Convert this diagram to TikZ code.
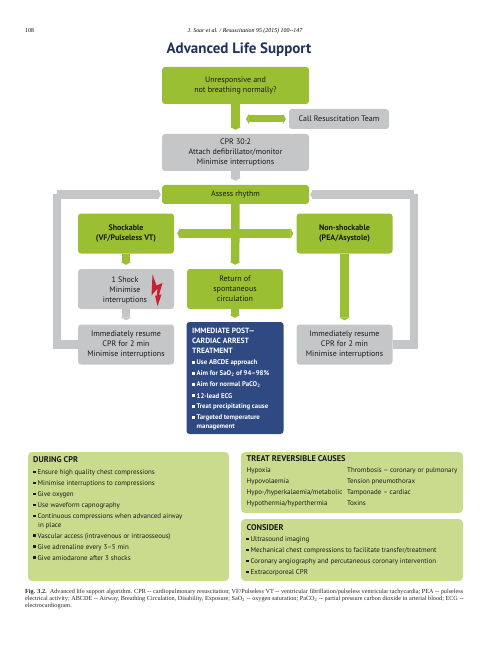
\documentclass[tikz,border=0pt]{standalone}
\usepackage{fontspec}
\setmainfont{PT Sans}
\newfontfamily\capfont{Liberation Serif}
\usetikzlibrary{arrows.meta}
\definecolor{colorAls}{HTML}{9BBF32}
\definecolor{colorGrey}{HTML}{C5C6C8}
\definecolor{colorPale}{HTML}{C9DB8C}
\definecolor{colorPost}{HTML}{2F4A82}
\definecolor{colorTitle}{HTML}{20305F}
\definecolor{colorBolt}{HTML}{C8202E}
\newcommand\bodyFont{\fontsize{8}{10}\selectfont}
\newcommand\listFont{\fontsize{6.95}{8.6}\selectfont}
\newcommand\subTwo{\textsubscript{2}}
\tikzset{
	box/.style={rounded corners=3pt, inner sep=0pt, align=center, font=\bodyFont, text=black!90},
	greenbox/.style={box, fill=colorAls},
	greybox/.style={box, fill=colorGrey},
	palebox/.style={rounded corners=4pt, fill=colorPale, inner sep=0pt},
	thinarrow/.style={colorAls, line width=7pt, -{Triangle[width=10.5pt,length=3pt]}, shorten >=3pt},
	greenarrow/.style={colorAls, line width=8.5pt, -{Triangle[width=11pt,length=3pt]}, shorten >=4pt},
	greyarrow/.style={colorGrey, line width=8.5pt, -{Triangle[width=11pt,length=3pt]}, shorten >=4pt},
	listtext/.style={anchor=west, inner sep=0pt, font=\listFont, text=black!90},
	listhead/.style={anchor=west, inner sep=0pt, font=\fontsize{8.3}{10}\selectfont\bfseries, text=black!90},
	bullet/.style={fill=black!90, minimum size=2.4pt, inner sep=0pt},
	posttext/.style={anchor=west, inner sep=0pt, font=\fontsize{6.8}{8.4}\selectfont\bfseries, text=white, align=left},
	postbullet/.style={fill=white, minimum size=2.2pt, inner sep=0pt},
	captext/.style={anchor=west, inner sep=0pt, font=\fontsize{6.2}{7}\selectfont\capfont, text=black!85}
}
\begin{document}
\begin{tikzpicture}[x=1pt,y=-1pt]
	\useasboundingbox (0,0) rectangle (502,668);

	\node[anchor=west, inner sep=0pt, font=\fontsize{5.9}{7}\selectfont\capfont] (pageno) at (25,31) {108};
	\node[inner sep=0pt, font=\fontsize{5.9}{7}\selectfont\capfont\itshape] (running) at (245,31) {J. Soar et al. / Resuscitation 95 (2015) 100--147};
	\node[inner sep=0pt, font=\fontsize{15}{17}\selectfont\bfseries, text=colorTitle] (title) at (239,50) {Advanced Life Support};

	% flow boxes
	\node[greenbox, minimum width=147pt, minimum height=37pt] (unresp) at (235.5,85.5) {Unresponsive and\\not breathing normally?};
	\node[greybox, minimum width=100pt, minimum height=20pt] (team) at (339,119) {Call Resuscitation Team};
	\node[greybox, minimum width=147pt, minimum height=37pt] (cpr) at (235.5,152.5) {CPR 30:2\\Attach defibrillator/monitor\\Minimise interruptions};
	\node[greenbox, minimum width=147pt, minimum height=19pt] (assess) at (235.5,194.5) {Assess rhythm};
	\node[greenbox, minimum width=96pt, minimum height=40pt, font=\bodyFont\bfseries] (shock) at (126,233.5) {Shockable\\(VF/Pulseless VT)};
	\node[greenbox, minimum width=96pt, minimum height=40pt, font=\bodyFont\bfseries] (nonshock) at (344.5,233.5) {Non-shockable\\(PEA/Asystole)};
	\node[greybox, minimum width=96pt, minimum height=40pt] (oneshock) at (126,289) {};
	\node[inner sep=0pt, align=center, font=\bodyFont, text=black!90] (oneshocktext) at (125,290) {1 Shock\\Minimise\\interruptions};
	\node[greenbox, minimum width=96pt, minimum height=40pt] (rosc) at (235,289) {Return of\\spontaneous\\circulation};
	\node[greybox, minimum width=96pt, minimum height=40pt] (resumeL) at (126,344.5) {Immediately resume\\CPR for 2 min\\Minimise interruptions};
	\node[greybox, minimum width=96pt, minimum height=40pt] (resumeR) at (344.5,344.5) {Immediately resume\\CPR for 2 min\\Minimise interruptions};
	\node[box, fill=colorPost, minimum width=97pt, minimum height=112pt] (post) at (235,378) {};

	\coordinate (teamend) at (246,119);
	\coordinate (loopL) at (57,194);
	\coordinate (loopR) at (414,194);

	% connectors
	\draw[greyarrow, line join=miter, shorten >=1pt] (resumeL.west) -| (loopL) |- (assess.west);
	\draw[greyarrow, line join=miter, shorten >=1pt] (resumeR.east) -| (loopR) |- (assess.east);
	\draw[greenarrow] (unresp) -- (cpr);
	\draw[thinarrow, {Triangle[width=10.5pt,length=3pt]}-{Triangle[width=10.5pt,length=3pt]}, shorten <=3pt, shorten >=0pt] (team) -- (teamend);
	\draw[greyarrow] (cpr) -- (assess);
	\draw[greenarrow] (assess) -- (rosc);
	\draw[greenarrow, {Triangle[width=11pt,length=3pt]}-{Triangle[width=11pt,length=3pt]}, shorten <=3pt, shorten >=3pt] (shock) -- (nonshock);
	\draw[greenarrow] (shock) -- (oneshock);
	\draw[greyarrow] (oneshock) -- (resumeL);
	\draw[greenarrow] (rosc) -- (post);
	\draw[greenarrow] (nonshock) -- (resumeR);

	% bolt
	\fill[colorBolt] (152.5,274.5) -- (156.5,285.5) -- (162.5,283) -- (159,295) -- (161.5,294.5) -- (157.5,306) -- (155,295.5) -- (156.8,295.5) -- (157.5,288.5) -- (151.5,295.5) -- cycle;

	% post-arrest text
	\foreach \y/\txt [count=\i] in {331/{IMMEDIATE POST---}, 341/{CARDIAC ARREST}, 351/{TREATMENT}}{
		\node[posttext, font=\fontsize{7.6}{9}\selectfont\bfseries] (posthead\i) at (192,\y) {\txt};
	}
	\foreach \y/\txt [count=\i] in {363/{Use ABCDE approach}, 374/{Aim for SaO\subTwo{} of 94--98\%}, 385/{Aim for normal PaCO\subTwo}, 396/{12-lead ECG}, 407/{Treat precipitating cause}, 422.5/{Targeted temperature\\management}}{
		\node[posttext] (postitem\i) at (196.5,\y) {\txt};
	}
	\foreach \y [count=\i] in {362.5,373.5,384.5,395.5,406.5,417.5}{
		\node[postbullet] (postdot\i) at (193.5,\y) {};
	}

	% lower boxes
	\node[palebox, minimum width=201pt, minimum height=129pt] (during) at (128.5,516.5) {};
	\node[palebox, minimum width=222pt, minimum height=61pt] (treat) at (352,482.5) {};
	\node[palebox, minimum width=222pt, minimum height=62pt] (consider) at (352,550) {};

	\node[listhead] (duringhead) at (33,460) {DURING CPR};
	\foreach \y/\txt [count=\i] in {472.5/{Ensure high quality chest compressions}, 483.5/{Minimise interruptions to compressions}, 494.5/{Give oxygen}, 505.5/{Use waveform capnography}, 516.7/{Continuous compressions when advanced airway}, 536.3/{Vascular access (intravenous or intraosseous)}, 547.3/{Give adrenaline every 3--5 min}, 558.3/{Give amiodarone after 3 shocks}}{
		\node[listtext] (duringitem\i) at (37.5,\y) {\txt};
		\node[bullet] (duringdot\i) at (34.5,\y-0.7) {};
	}
	\node[listtext] (duringmore) at (38,525.3) {in place};

	\node[listhead] (treathead) at (246.5,459) {TREAT REVERSIBLE CAUSES};
	\foreach \y/\txt/\other [count=\i] in {470.5/{Hypoxia}/{Thrombosis -- coronary or pulmonary}, 481.5/{Hypovolaemia}/{Tension pneumothorax}, 492.5/{Hypo-/hyperkalaemia/metabolic}/{Tamponade -- cardiac}, 503.5/{Hypothermia/hyperthermia}/{Toxins}}{
		\node[listtext] (causeL\i) at (246.5,\y) {\txt};
		\node[listtext] (causeR\i) at (347,\y) {\other};
	}

	\node[listhead] (considerhead) at (246.5,527.5) {CONSIDER};
	\foreach \y/\txt [count=\i] in {539.5/{Ultrasound imaging}, 550.5/{Mechanical chest compressions to facilitate transfer/treatment}, 561.5/{Coronary angiography and percutaneous coronary intervention}, 572.5/{Extracorporeal CPR}}{
		\node[listtext] (consideritem\i) at (250.5,\y) {\txt};
		\node[bullet] (considerdot\i) at (247.5,\y-0.7) {};
	}

	% caption
	\node[captext] (cap1) at (25,592) {\textbf{Fig. 3.2.}\enspace Advanced life support algorithm. CPR -- cardiopulmonary resuscitation; VF/Pulseless VT -- ventricular fibrillation/pulseless ventricular tachycardia; PEA -- pulseless};
	\node[captext] (cap2) at (25,599) {electrical activity; ABCDE -- Airway, Breathing Circulation, Disability, Exposure; SaO\subTwo{} -- oxygen saturation; PaCO\subTwo{} -- partial pressure carbon dioxide in arterial blood; ECG --};
	\node[captext] (cap3) at (25,606) {electrocardiogram.};
\end{tikzpicture}
\end{document}
